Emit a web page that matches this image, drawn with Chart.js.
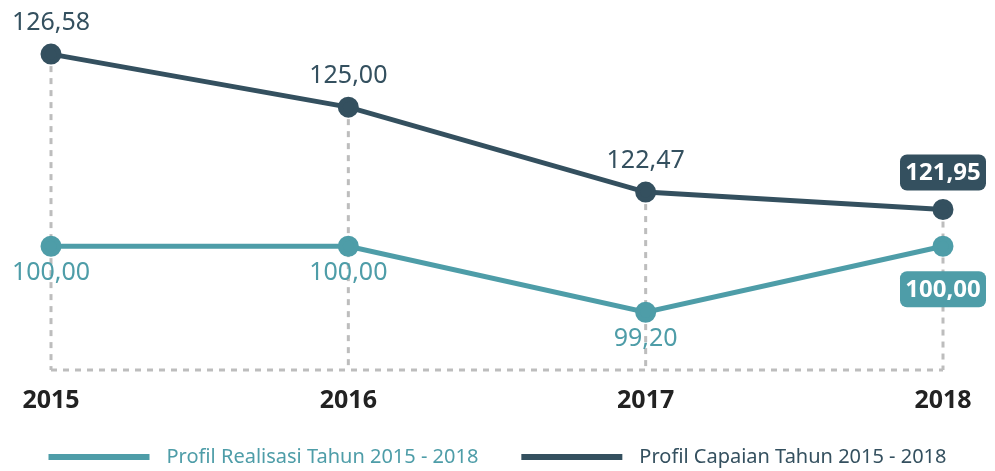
<!DOCTYPE html>
<html lang="id">
<head>
    <meta charset="UTF-8">
    <title>Profil Realisasi dan Capaian 2015 - 2018</title>
    <script src="https://cdn.jsdelivr.net/npm/chart.js"></script>
    <style>
        html, body { margin: 0; padding: 0; background: #fff; }
        #wrap { width: 995px; height: 471px; }
    </style>
</head>
<body>
    <div id="wrap">
        <canvas id="myChart" width="995" height="471"></canvas>
    </div>
    <script>
        // data
        const years = ['2015', '2016', '2017', '2018'];
        const realisasi = [100.00, 100.00, 99.20, 100.00];
        const capaian = [126.58, 125.00, 122.47, 121.95];
        const seriesNames = ['Profil Realisasi Tahun 2015 - 2018', 'Profil Capaian Tahun 2015 - 2018'];

        const TEAL = '#4e9da8';
        const DARK = '#34505f';
        const FONT = '"Noto Sans", "Open Sans", sans-serif';

        const fmt = v => v.toFixed(2).replace('.', ',');

        // dashed verticals + baseline
        const guides = {
            id: 'guides',
            beforeDatasetsDraw(chart) {
                const { ctx, chartArea } = chart;
                const top = chart.getDatasetMeta(1).data;
                ctx.save();
                ctx.strokeStyle = '#bdbdbd';
                ctx.lineWidth = 3;
                ctx.setLineDash([6, 6]);
                top.forEach(pt => {
                    ctx.beginPath();
                    ctx.moveTo(pt.x, pt.y);
                    ctx.lineTo(pt.x, chartArea.bottom);
                    ctx.stroke();
                });
                ctx.beginPath();
                ctx.moveTo(chartArea.left, chartArea.bottom);
                ctx.lineTo(chartArea.right, chartArea.bottom);
                ctx.stroke();
                ctx.restore();
            }
        };

        function roundBox(ctx, x, y, w, h, r) {
            ctx.beginPath();
            ctx.moveTo(x + r, y);
            ctx.arcTo(x + w, y, x + w, y + h, r);
            ctx.arcTo(x + w, y + h, x, y + h, r);
            ctx.arcTo(x, y + h, x, y, r);
            ctx.arcTo(x, y, x + w, y, r);
            ctx.closePath();
        }

        // value labels and legend
        const labels = {
            id: 'valueLabels',
            afterDatasetsDraw(chart) {
                const { ctx } = chart;
                ctx.save();
                ctx.textAlign = 'center';
                ctx.textBaseline = 'middle';
                chart.data.datasets.forEach((ds, i) => {
                    const pts = chart.getDatasetMeta(i).data;
                    const above = ds.labelPos === 'above';
                    pts.forEach((pt, j) => {
                        const txt = fmt(ds.data[j]);
                        if (j === pts.length - 1) {
                            const cy = pt.y + (above ? -37 : 43);
                            ctx.fillStyle = ds.borderColor;
                            roundBox(ctx, pt.x - 43, cy - 18, 86, 36, 7);
                            ctx.fill();
                            ctx.fillStyle = '#fff';
                            ctx.font = 'bold 24px ' + FONT;
                            ctx.fillText(txt, pt.x, cy + 1);
                        } else {
                            ctx.fillStyle = ds.borderColor;
                            ctx.font = '25px ' + FONT;
                            ctx.fillText(txt, pt.x, pt.y + (above ? -31 : 27));
                        }
                    });
                });
                ctx.restore();
            },
            afterDraw(chart) {
                const { ctx } = chart;
                ctx.save();
                ctx.font = '20px ' + FONT;
                ctx.textBaseline = 'middle';
                ctx.textAlign = 'left';
                const boxW = 101, gap = 17, itemGap = 43;
                const items = chart.data.datasets.map(ds => ({ ds, w: boxW + gap + ctx.measureText(ds.label).width }));
                const total = items.reduce((s, it) => s + it.w, 0) + itemGap * (items.length - 1);
                let x = (chart.width - total) / 2;
                const y = 457;
                items.forEach(it => {
                    ctx.fillStyle = it.ds.borderColor;
                    ctx.fillRect(x, y - 3, boxW, 6);
                    ctx.fillText(it.ds.label, x + boxW + gap, y);
                    x += it.w + itemGap;
                });
                ctx.restore();
            }
        };

        new Chart(document.getElementById('myChart'), {
            type: 'line',
            data: {
                labels: years,
                datasets: [
                    {
                        label: seriesNames[0],
                        data: realisasi,
                        yAxisID: 'yL',
                        labelPos: 'below',
                        borderColor: TEAL,
                        backgroundColor: TEAL,
                        borderWidth: 5,
                        pointRadius: 8,
                        pointHoverRadius: 8,
                        tension: 0
                    },
                    {
                        label: seriesNames[1],
                        data: capaian,
                        yAxisID: 'yD',
                        labelPos: 'above',
                        borderColor: DARK,
                        backgroundColor: DARK,
                        borderWidth: 5,
                        pointRadius: 8,
                        pointHoverRadius: 8,
                        tension: 0
                    }
                ]
            },
            options: {
                responsive: false,
                animation: false,
                layout: { padding: { left: 51, right: 52, top: 40, bottom: 39 } },
                plugins: {
                    legend: { display: false },
                    tooltip: { enabled: false }
                },
                scales: {
                    x: {
                        offset: false,
                        grid: { display: false, drawTicks: false },
                        border: { display: false },
                        ticks: {
                            padding: 16,
                            color: '#222',
                            font: { family: FONT, size: 25, weight: 'bold' }
                        }
                    },
                    yD: { display: false, min: 117.17, max: 127.0 },
                    yL: { display: false, min: 98.5, max: 102.5 }
                }
            },
            plugins: [guides, labels]
        });
    </script>
</body>
</html>
